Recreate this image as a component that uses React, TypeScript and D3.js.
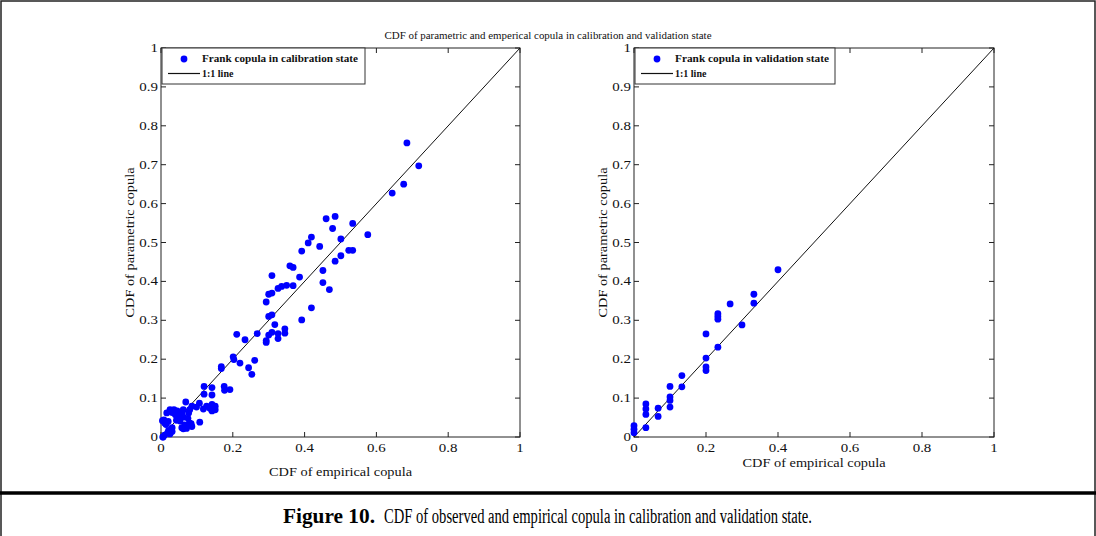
import React from "react";
import * as d3 from "d3";

const W = 1096;
const H = 536;

const titleText = "CDF of parametric and emperical copula in calibration and validation state";
const xLabelText = "CDF of empirical copula";
const yLabelText = "CDF of parametric copula";
const calibLegend = "Frank copula in calibration state";
const validLegend = "Frank copula in validation state";
const lineLegend = "1:1 line";
const captionBold = "Figure 10.";
const captionRest = "CDF of observed and empirical copula in calibration and validation state.";

const xTicks = [0, 0.2, 0.4, 0.6, 0.8, 1];
const yTicks = [0, 0.1, 0.2, 0.3, 0.4, 0.5, 0.6, 0.7, 0.8, 0.9, 1];

// Calibration: empirical CDF (x) vs parametric CDF (y)
const calibX = [
  0.718, 0.676, 0.644, 0.685, 0.576, 0.534, 0.485, 0.46, 0.478, 0.501, 0.534, 0.523, 0.501, 0.485,
  0.419, 0.41, 0.442, 0.392, 0.451, 0.451, 0.469, 0.419, 0.392, 0.359, 0.368, 0.386, 0.368, 0.35,
  0.336, 0.326, 0.309, 0.309, 0.3, 0.293, 0.309, 0.3, 0.317, 0.345, 0.345, 0.309, 0.326, 0.3,
  0.326, 0.293, 0.293, 0.268, 0.234, 0.211,
  0.201, 0.203, 0.22, 0.244, 0.253, 0.261, 0.168, 0.168, 0.176, 0.192, 0.177, 0.142, 0.142, 0.12,
  0.12,
  0.142, 0.151, 0.151, 0.136, 0.142, 0.127, 0.118, 0.107, 0.099, 0.108, 0.086, 0.08, 0.077, 0.069,
  0.062, 0.058, 0.062, 0.075, 0.079, 0.084, 0.086, 0.066, 0.058, 0.062, 0.071, 0.045, 0.04, 0.049,
  0.043, 0.053, 0.025, 0.031, 0.016, 0.036, 0.008, 0.01, 0.014, 0.031, 0.031, 0.021, 0.025, 0.018,
  0.01, 0.006, 0.005, 0.004, 0.02,
];
const calibY = [
  0.697, 0.65, 0.627, 0.756, 0.52, 0.549, 0.567, 0.561, 0.536, 0.509, 0.48, 0.48, 0.466, 0.452,
  0.514, 0.499, 0.49, 0.478, 0.428, 0.397, 0.379, 0.332, 0.301, 0.44, 0.436, 0.411, 0.389, 0.39,
  0.387, 0.382, 0.415, 0.37, 0.367, 0.347, 0.314, 0.31, 0.289, 0.278, 0.267, 0.269, 0.266, 0.262,
  0.253, 0.248, 0.243, 0.266, 0.25, 0.264,
  0.206, 0.199, 0.19, 0.178, 0.161, 0.197, 0.181, 0.176, 0.13, 0.122, 0.12, 0.108, 0.127, 0.13,
  0.11,
  0.084, 0.079, 0.07, 0.074, 0.067, 0.079, 0.072, 0.087, 0.077, 0.038, 0.079, 0.07, 0.062, 0.09,
  0.07, 0.062, 0.051, 0.048, 0.036, 0.034, 0.027, 0.031, 0.024, 0.021, 0.022, 0.067, 0.057, 0.051,
  0.043, 0.041, 0.07, 0.063, 0.062, 0.07, 0.044, 0.036, 0.032, 0.024, 0.014, 0.017, 0.008, 0.01,
  0.005, 0.0, 0.0, 0.042, 0.04,
];

// Validation
const validX = [
  0.4, 0.333, 0.333, 0.267, 0.233, 0.233, 0.233, 0.3, 0.233, 0.2, 0.2, 0.2, 0.2, 0.133, 0.133,
  0.1, 0.1, 0.1, 0.1, 0.067, 0.067, 0.033, 0.033, 0.033, 0.033, 0.0, 0.0, 0.0,
];
const validY = [
  0.43, 0.367, 0.344, 0.342, 0.317, 0.31, 0.303, 0.288, 0.231, 0.265, 0.203, 0.18, 0.171, 0.158,
  0.129, 0.13, 0.103, 0.094, 0.077, 0.074, 0.053, 0.085, 0.072, 0.058, 0.024, 0.029, 0.02, 0.011,
];

const SERIF = "'Liberation Serif', 'DejaVu Serif', serif";
const BLUE = "#0000ff";

type PanelProps = {
  x0: number;
  x1: number;
  y0: number;
  y1: number;
  xs: number[];
  ys: number[];
  legend: string;
  legendW: number;
  legendTextLen: number;
  xLabelY: number;
  yLabelX: number;
};

function Panel(p: PanelProps) {
  const sx = d3.scaleLinear().domain([0, 1]).range([p.x0, p.x1]);
  const sy = d3.scaleLinear().domain([0, 1]).range([p.y1, p.y0]);
  const tl = 5;
  const line = d3.line<number>().x((d) => sx(d)).y((d) => sy(d));
  const cx = (p.x0 + p.x1) / 2;
  const cy = (p.y0 + p.y1) / 2;
  const lgX = p.x0 + 1;
  const lgY = p.y0;
  return (
    <g>
      <rect x={p.x0} y={p.y0} width={p.x1 - p.x0} height={p.y1 - p.y0} fill="#fff" stroke="#222" strokeWidth={1} />
      {xTicks.map((t) => (
        <g key={"xt" + t}>
          <line x1={sx(t)} x2={sx(t)} y1={p.y1} y2={p.y1 - tl} stroke="#222" />
          <line x1={sx(t)} x2={sx(t)} y1={p.y0} y2={p.y0 + tl} stroke="#222" />
          <text
            transform={`translate(${sx(t)},${p.y1 + 15}) scale(1.3,1)`}
            textAnchor="middle"
            fontFamily={SERIF}
            fontSize={11.5}
            fill="#111"
          >
            {d3.format("")(t)}
          </text>
        </g>
      ))}
      {yTicks.map((t) => (
        <g key={"yt" + t}>
          <line x1={p.x0} x2={p.x0 + tl} y1={sy(t)} y2={sy(t)} stroke="#222" />
          <line x1={p.x1} x2={p.x1 - tl} y1={sy(t)} y2={sy(t)} stroke="#222" />
          <text
            transform={`translate(${p.x0 - 3},${sy(t) + 4}) scale(1.3,1)`}
            textAnchor="end"
            fontFamily={SERIF}
            fontSize={11.5}
            fill="#111"
          >
            {d3.format("")(t)}
          </text>
        </g>
      ))}
      <path d={line([0, 1]) || ""} stroke="#111" strokeWidth={1} fill="none" />
      {p.xs.map((v, i) => (
        <circle key={"pt" + i} cx={sx(v)} cy={sy(p.ys[i])} r={3.4} fill={BLUE} />
      ))}
      <text
        x={cx}
        y={p.xLabelY}
        textAnchor="middle"
        fontFamily={SERIF}
        fontSize={11.5}
        textLength={143}
        lengthAdjust="spacingAndGlyphs"
        fill="#111"
      >
        {xLabelText}
      </text>
      <text
        transform={`translate(${p.yLabelX},${cy}) rotate(-90)`}
        textAnchor="middle"
        fontFamily={SERIF}
        fontSize={12}
        textLength={150}
        lengthAdjust="spacingAndGlyphs"
        fill="#111"
      >
        {yLabelText}
      </text>
      <rect x={lgX} y={lgY} width={p.legendW} height={36} fill="#fff" stroke="#333" strokeWidth={1} />
      <circle cx={lgX + 22} cy={lgY + 11} r={3.4} fill={BLUE} />
      <text
        x={lgX + 40}
        y={lgY + 14}
        fontFamily={SERIF}
        fontSize={10}
        fontWeight="bold"
        textLength={p.legendTextLen}
        lengthAdjust="spacingAndGlyphs"
        fill="#111"
      >
        {p.legend}
      </text>
      <line x1={lgX + 6} x2={lgX + 38} y1={lgY + 25.5} y2={lgY + 25.5} stroke="#111" strokeWidth={1.2} />
      <text
        x={lgX + 40}
        y={lgY + 29}
        fontFamily={SERIF}
        fontSize={10}
        fontWeight="bold"
        fill="#111"
      >
        {lineLegend}
      </text>
    </g>
  );
}

export default function App() {
  return (
    <svg
      width={W}
      height={H}
      style={{ position: "absolute", left: 0, top: 0, background: "#fff" }}
      xmlns="http://www.w3.org/2000/svg"
    >
      <rect x={0} y={0} width={W} height={H} fill="#fff" />
      <rect x={1} y={1} width={W - 2} height={H + 10} fill="none" stroke="#222" strokeWidth={1.5} />
      <text
        x={548}
        y={39}
        textAnchor="middle"
        fontFamily={SERIF}
        fontSize={10}
        textLength={327}
        lengthAdjust="spacingAndGlyphs"
        fill="#111"
      >
        {titleText}
      </text>
      <Panel
        x0={161}
        x1={520}
        y0={48}
        y1={437}
        xs={calibX}
        ys={calibY}
        legend={calibLegend}
        legendW={203}
        legendTextLen={156}
        xLabelY={476}
        yLabelX={134}
      />
      <Panel
        x0={634}
        x1={994}
        y0={48}
        y1={437}
        xs={validX}
        ys={validY}
        legend={validLegend}
        legendW={200}
        legendTextLen={154}
        xLabelY={467}
        yLabelX={607}
      />
      <line x1={0} x2={W} y1={493} y2={493} stroke="#000" strokeWidth={3.5} />
      <text
        x={283}
        y={523}
        fontFamily={SERIF}
        fontSize={20}
        fontWeight="bold"
        textLength={92}
        lengthAdjust="spacingAndGlyphs"
        fill="#000"
      >
        {captionBold}
      </text>
      <text
        x={384}
        y={523}
        fontFamily={SERIF}
        fontSize={20}
        textLength={428}
        lengthAdjust="spacingAndGlyphs"
        fill="#000"
      >
        {captionRest}
      </text>
    </svg>
  );
}
